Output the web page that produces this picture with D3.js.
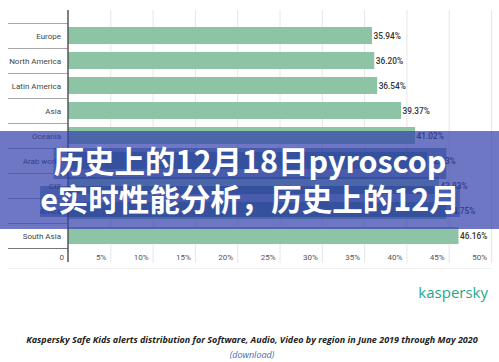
<!DOCTYPE html>
<html>
<head>
<meta charset="utf-8">
<script src="https://cdn.jsdelivr.net/npm/d3@7"></script>
<style>
  html, body { margin: 0; padding: 0; background: #fff; }
  svg { display: block; }
</style>
</head>
<body>
<div id="chart"></div>
<script>
// chart data
var regions = ["Europe", "North America", "Latin America", "Asia", "Oceania",
               "Arab world", "CIS", "Africa", "South Asia"];
var shares = [35.94, 36.20, 36.54, 39.37, 41.02, 42.43, 43.83, 44.75, 46.16];
var tickValues = [0, 5, 10, 15, 20, 25, 30, 35, 40, 45, 50];
var tickLabels = ["0", "5%", "10%", "15%", "20%", "25%", "30%", "35%", "40%", "45%", "50%"];
var caption = "Kaspersky Safe Kids alerts distribution for Software, Audio, Video by region in June 2019 through May 2020";
var bannerLines = ["历史上的12月18日pyroscop", "e实时性能分析，历史上的12月"];

var width = 499,
    height = 362;

var svg = d3.select("#chart")
  .append("svg")
  .attr("width", width)
  .attr("height", height);

var x = d3.scaleLinear().domain([0, 50]).range([68, 491]);
var y = d3.scaleBand().domain(regions).range([23, 248])
  .paddingInner(0.32).paddingOuter(0.16);
var rowStep = y.step();

var font = "Roboto, 'Liberation Sans', sans-serif";

// faint panel bottom
svg.append("line")
  .attr("x1", 8).attr("x2", 491)
  .attr("y1", 268.5).attr("y2", 268.5)
  .attr("stroke", "#f1f1f1");

// gridlines
svg.append("g")
  .selectAll("line")
  .data(tickValues.slice(1))
  .enter()
  .append("line")
  .attr("x1", function(d) { return x(d) + 0.5; })
  .attr("x2", function(d) { return x(d) + 0.5; })
  .attr("y1", 10)
  .attr("y2", 263)
  .attr("stroke", "#e6e6e6");

// row separators in the label column
svg.append("g")
  .selectAll("line")
  .data(d3.range(regions.length))
  .enter()
  .append("line")
  .attr("x1", 8).attr("x2", 68)
  .attr("y1", function(i) { return Math.round(23 + i * rowStep) + 0.5; })
  .attr("y2", function(i) { return Math.round(23 + i * rowStep) + 0.5; })
  .attr("stroke", "#a8a8a8");

svg.append("line")
  .attr("x1", 8).attr("x2", 68)
  .attr("y1", 248.5).attr("y2", 248.5)
  .attr("stroke", "#777");

// bars
svg.append("g")
  .selectAll("rect")
  .data(shares)
  .enter()
  .append("rect")
  .attr("x", x(0))
  .attr("y", function(d, i) { return y(regions[i]); })
  .attr("width", function(d) { return x(d) - x(0); })
  .attr("height", y.bandwidth())
  .attr("fill", "#8cc4a5");

// value labels
svg.append("g")
  .selectAll("text")
  .data(shares)
  .enter()
  .append("text")
  .attr("x", function(d) { return x(d) + 1.5; })
  .attr("y", function(d, i) { return y(regions[i]) + y.bandwidth() / 2 + 3; })
  .attr("font-family", font)
  .attr("font-size", 8.3)
  .attr("font-weight", 500)
  .attr("fill", "#333")
  .text(function(d) { return d.toFixed(2) + "%"; });

// region labels
svg.append("g")
  .selectAll("text")
  .data(regions)
  .enter()
  .append("text")
  .attr("x", 61)
  .attr("y", function(d) { return y(d) + y.bandwidth() / 2 + 3; })
  .attr("text-anchor", "end")
  .attr("font-family", font)
  .attr("font-size", 8)
  .attr("fill", "#444")
  .text(function(d) { return d; });

// axis line
svg.append("line")
  .attr("x1", 68).attr("x2", 68)
  .attr("y1", 10).attr("y2", 262)
  .attr("stroke", "#555")
  .attr("stroke-width", 1.5);

// tick labels
svg.append("g")
  .selectAll("text")
  .data(tickValues)
  .enter()
  .append("text")
  .attr("x", function(d) { return x(d) - 4; })
  .attr("y", 260)
  .attr("text-anchor", "end")
  .attr("font-family", font)
  .attr("font-size", 8)
  .attr("fill", "#555")
  .text(function(d, i) { return tickLabels[i]; });

// logo
svg.append("text")
  .attr("x", 488)
  .attr("y", 298)
  .attr("text-anchor", "end")
  .attr("font-family", "'Open Sans', 'DejaVu Sans', sans-serif")
  .attr("font-size", 15)
  .attr("fill", "#1fa88c")
  .text("kaspersky");

// caption
svg.append("text")
  .attr("x", 252)
  .attr("y", 343)
  .attr("text-anchor", "middle")
  .attr("font-family", "'Open Sans', sans-serif")
  .attr("font-size", 9)
  .attr("font-style", "italic")
  .attr("font-weight", 700)
  .attr("fill", "#222")
  .text(caption);

svg.append("text")
  .attr("x", 252)
  .attr("y", 358)
  .attr("text-anchor", "middle")
  .attr("font-family", "'Open Sans', sans-serif")
  .attr("font-size", 9)
  .attr("font-style", "italic")
  .attr("fill", "#3b6cb5")
  .text("(download)");

// title banner over the chart
var banner = svg.append("g").attr("class", "banner");

banner.append("rect")
  .attr("x", 0).attr("y", 131)
  .attr("width", width).attr("height", 98)
  .attr("fill", "rgb(49,64,172)")
  .attr("fill-opacity", 0.71);

var lineY = [173, 211];
bannerLines.forEach(function(t, i) {
  var txt = banner.append("text")
    .attr("x", 250)
    .attr("y", lineY[i])
    .attr("text-anchor", "middle")
    .attr("font-family", "'Noto Sans CJK SC', sans-serif")
    .attr("font-size", 30.5)
    .attr("font-weight", 700)
    .attr("fill", "#fff")
    .text(t);
  var bb = txt.node().getBBox();
  banner.insert("rect", function() { return txt.node(); })
    .attr("x", bb.x)
    .attr("y", lineY[i] - 25)
    .attr("width", bb.width)
    .attr("height", 31)
    .attr("fill", "rgb(20,50,140)")
    .attr("fill-opacity", 0.4);
});
</script>
</body>
</html>
